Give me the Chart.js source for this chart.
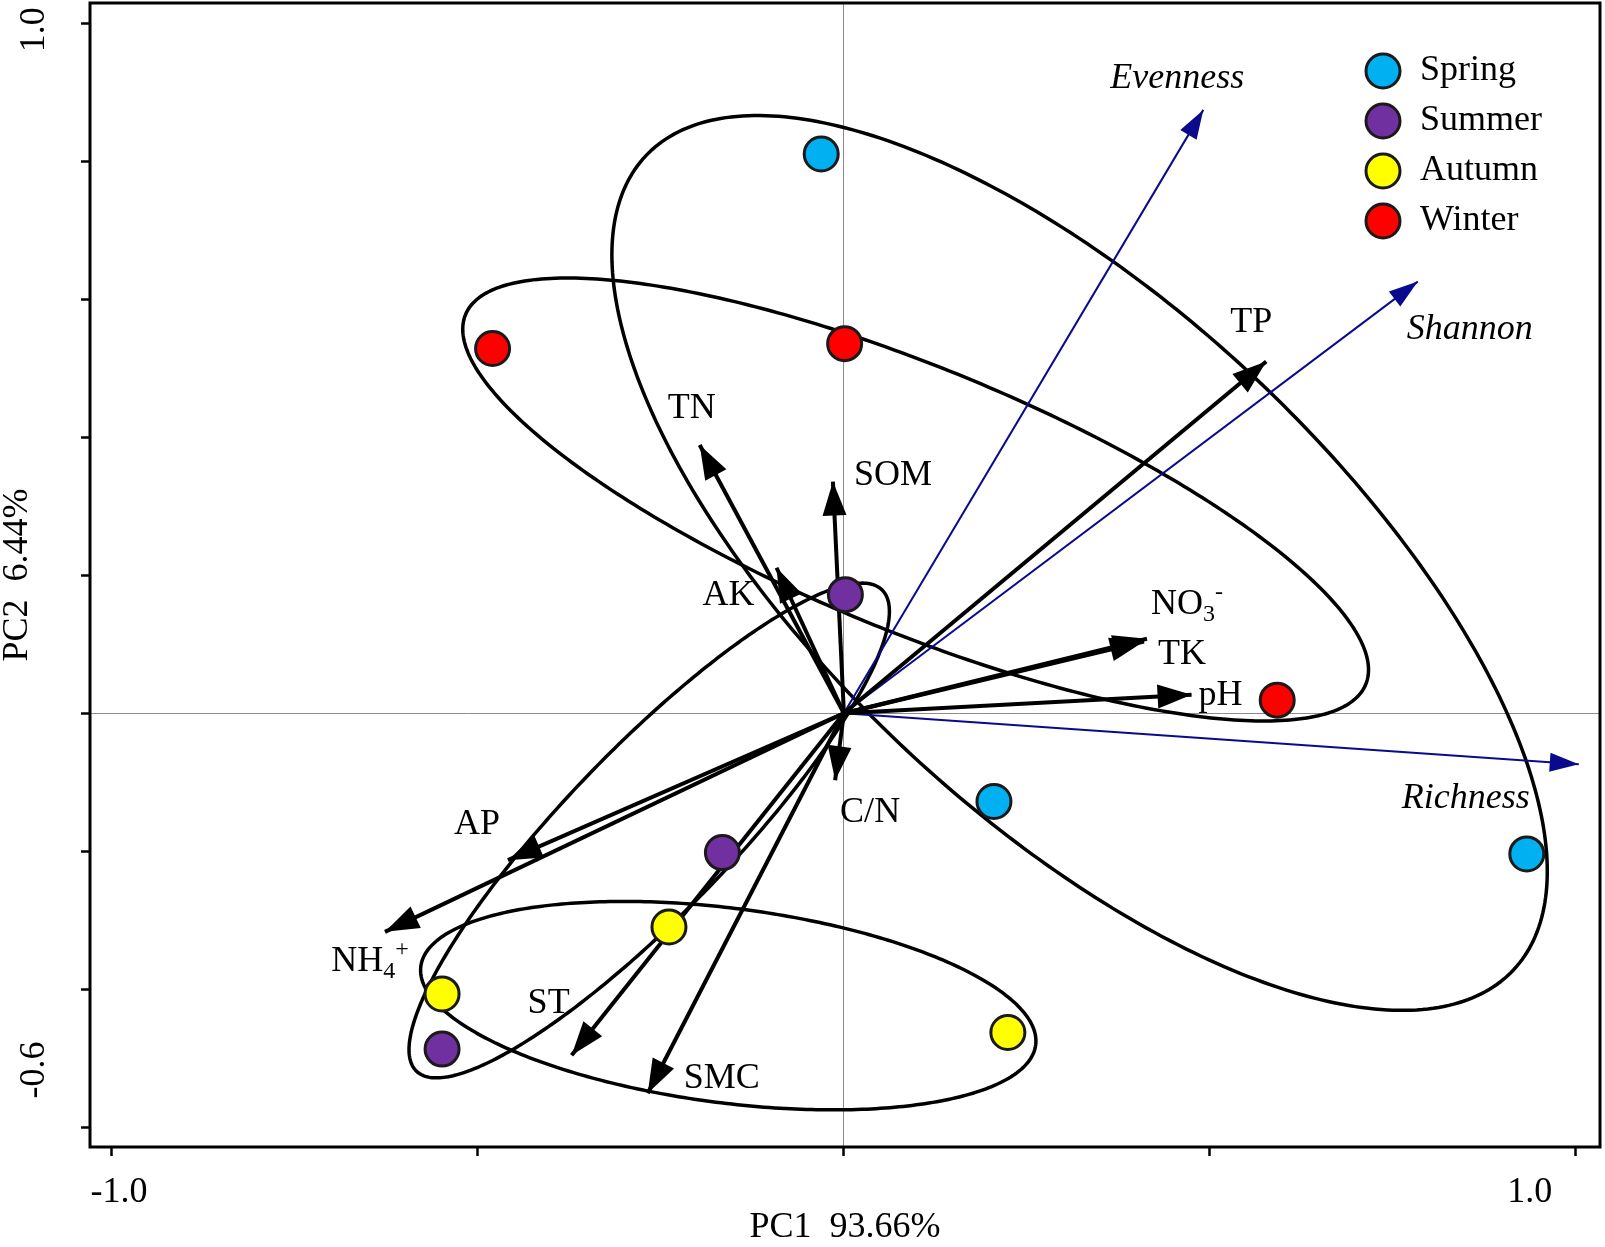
<!DOCTYPE html>
<html lang="en">
<head>
<meta charset="UTF-8" />
<title>PCA biplot - seasons</title>
<script src="https://cdn.jsdelivr.net/npm/chart.js"></script>
<style>
  html, body { margin: 0; padding: 0; background: #fff; }
  canvas { display: block; }
</style>
</head>
<body>
<canvas id="pca" width="1605" height="1247"></canvas>
<script>
// sample scores on PC1 / PC2, by season
const springPC1 = [-0.031, 0.205, 0.933];
const springPC2 = [0.811, -0.128, -0.204];
const summerPC1 = [0.002, -0.166, -0.549];
const summerPC2 = [0.172, -0.202, -0.487];
const autumnPC1 = [-0.239, -0.549, 0.224];
const autumnPC2 = [-0.310, -0.407, -0.463];
const winterPC1 = [-0.480, 0.001, 0.592];
const winterPC2 = [0.529, 0.536, 0.019];

// soil property loadings (black arrows)
const soilVars = ['TP', 'TN', 'SOM', 'AK', 'NO3-', 'TK', 'pH', 'C/N', 'AP', 'NH4+', 'ST', 'SMC'];
const soilPC1 = [0.577, -0.197, -0.015, -0.092, 0.414, 0.410, 0.475, -0.012, -0.459, -0.627, -0.372, -0.268];
const soilPC2 = [0.510, 0.389, 0.336, 0.211, 0.108, 0.104, 0.027, -0.097, -0.213, -0.317, -0.496, -0.551];

// diversity index loadings (blue arrows)
const divVars = ['Evenness', 'Shannon', 'Richness'];
const divPC1 = [0.491, 0.784, 1.004];
const divPC2 = [0.875, 0.626, -0.074];

// season ellipses (Spring, Summer, Autumn, Winter): centre + two semi-axis vectors
const ellCX = [0.322, -0.266, -0.158, 0.098];
const ellCY = [0.218, -0.170, -0.424, 0.310];
const ellAX = [0.593, 0.318, 0.420, 0.615];
const ellAY = [-0.590, 0.349, -0.057, -0.268];
const ellBX = [-0.238, 0.081, -0.017, -0.068];
const ellBY = [-0.270, -0.083, -0.140, -0.177];

const xTicks = [-1, -0.5, 0, 0.5, 1];
const yTicks = [-0.6, -0.4, -0.2, 0, 0.2, 0.4, 0.6, 0.8, 1.0];
const xEndTicks = [-1, 1];
const xEndLabels = ['-1.0', '1.0'];
const yEndTicks = [-0.6, 1.0];
const yEndLabels = ['-0.6', '1.0'];

const seasons = ['Spring', 'Summer', 'Autumn', 'Winter'];
const seasonColors = ['#00b0f0', '#7030a0', '#ffff00', '#ff0000'];

// ---- styling / layout ----
const SERIF = "'Liberation Serif', 'Times New Roman', serif";
const NAVY = '#0a0a8c';

// label position relative to arrow tip, in px
const labelOffset = {
  'TP': [-15, -39], 'TN': [-8, -36], 'SOM': [60, -6], 'AK': [-48, 28],
  'NO3-': [40, -34], 'TK': [38, 13], 'pH': [29, 1], 'C/N': [35, 32],
  'AP': [-31, -36], 'NH4+': [-15, 30], 'ST': [-23, -52], 'SMC': [74, -15],
  'Evenness': [-26, -31], 'Shannon': [52, 48], 'Richness': [-113, 34]
};
// labels with sub / superscripts: [text, 0 normal | 1 sub | 2 sup]
const richText = {
  'NO3-': [['NO', 0], ['3', 1], ['-', 2]],
  'NH4+': [['NH', 0], ['4', 1], ['+', 2]]
};

function pts(xs, ys) {
  return xs.map((x, i) => ({ x: x, y: ys[i] }));
}

const datasets = [];
const groups = [
  [springPC1, springPC2], [summerPC1, summerPC2],
  [autumnPC1, autumnPC2], [winterPC1, winterPC2]
];
groups.forEach((g, i) => {
  datasets.push({
    label: seasons[i],
    data: pts(g[0], g[1]),
    backgroundColor: seasonColors[i],
    borderColor: '#1a1a1a',
    borderWidth: 3,
    pointRadius: 17,
    pointHoverRadius: 17,
    order: 0
  });
});
soilVars.forEach((name, i) => {
  datasets.push({
    label: name,
    data: [{ x: 0, y: 0 }, { x: soilPC1[i], y: soilPC2[i] }],
    showLine: true,
    borderColor: '#000',
    borderWidth: 4,
    borderCapStyle: 'butt',
    pointRadius: 0,
    order: 1,
    arrow: { len: 34, half: 12, color: '#000', italic: false }
  });
});
divVars.forEach((name, i) => {
  datasets.push({
    label: name,
    data: [{ x: 0, y: 0 }, { x: divPC1[i], y: divPC2[i] }],
    showLine: true,
    borderColor: NAVY,
    borderWidth: 2,
    borderCapStyle: 'butt',
    pointRadius: 0,
    order: 2,
    arrow: { len: 29, half: 9.5, color: NAVY, italic: true }
  });
});

function drawRich(ctx, name, cx, cy, italic) {
  const parts = richText[name] || [[name, 0]];
  const fonts = parts.map(p => (italic ? 'italic ' : '') + (p[1] ? '24px ' : '36px ') + SERIF);
  let w = 0;
  const widths = parts.map((p, i) => { ctx.font = fonts[i]; const m = ctx.measureText(p[0]).width; w += m; return m; });
  let x = cx - w / 2;
  ctx.textAlign = 'left';
  ctx.textBaseline = 'middle';
  parts.forEach((p, i) => {
    ctx.font = fonts[i];
    const dy = p[1] === 1 ? 10 : (p[1] === 2 ? -12 : 0);
    ctx.fillText(p[0], x, cy + dy);
    x += widths[i];
  });
}

const biplot = {
  id: 'biplot',
  beforeDatasetsDraw(chart) {
    const { ctx, chartArea: a, scales: { x, y } } = chart;
    ctx.save();
    ctx.beginPath();
    ctx.rect(a.left, a.top, a.right - a.left, a.bottom - a.top);
    ctx.clip();
    ctx.strokeStyle = '#000';
    ctx.lineWidth = 3.5;
    for (let k = 0; k < ellCX.length; k++) {
      ctx.beginPath();
      for (let s = 0; s <= 360; s++) {
        const t = s * Math.PI / 180;
        const vx = ellCX[k] + ellAX[k] * Math.cos(t) + ellBX[k] * Math.sin(t);
        const vy = ellCY[k] + ellAY[k] * Math.cos(t) + ellBY[k] * Math.sin(t);
        const px = x.getPixelForValue(vx), py = y.getPixelForValue(vy);
        if (s === 0) ctx.moveTo(px, py); else ctx.lineTo(px, py);
      }
      ctx.closePath();
      ctx.stroke();
    }
    ctx.restore();
  },
  afterDatasetDraw(chart, args) {
    const ds = chart.data.datasets[args.index];
    if (!ds.arrow) return;
    const { ctx, scales: { x, y } } = chart;
    const x0 = x.getPixelForValue(ds.data[0].x), y0 = y.getPixelForValue(ds.data[0].y);
    const x1 = x.getPixelForValue(ds.data[1].x), y1 = y.getPixelForValue(ds.data[1].y);
    const ang = Math.atan2(y1 - y0, x1 - x0);
    const c = Math.cos(ang), s = Math.sin(ang);
    const { len, half, color } = ds.arrow;
    ctx.save();
    ctx.fillStyle = color;
    ctx.beginPath();
    ctx.moveTo(x1, y1);
    ctx.lineTo(x1 - len * c + half * s, y1 - len * s - half * c);
    ctx.lineTo(x1 - len * c - half * s, y1 - len * s + half * c);
    ctx.closePath();
    ctx.fill();
    ctx.restore();
  },
  afterDatasetsDraw(chart) {
    const { ctx, scales: { x, y } } = chart;
    ctx.save();
    chart.data.datasets.forEach(ds => {
      if (!ds.arrow) return;
      const off = labelOffset[ds.label] || [0, 0];
      const px = x.getPixelForValue(ds.data[1].x) + off[0];
      const py = y.getPixelForValue(ds.data[1].y) + off[1];
      ctx.fillStyle = '#000';
      drawRich(ctx, ds.label, px, py, ds.arrow.italic);
    });
    ctx.restore();
  },
  afterDraw(chart) {
    const { ctx, chartArea: a, scales: { x, y } } = chart;
    ctx.save();
    // frame
    ctx.strokeStyle = '#000';
    ctx.lineWidth = 3;
    ctx.strokeRect(a.left, a.top, a.right - a.left, a.bottom - a.top);
    // end tick labels
    ctx.fillStyle = '#000';
    ctx.font = '36px ' + SERIF;
    ctx.textAlign = 'center';
    ctx.textBaseline = 'middle';
    xEndTicks.forEach((v, i) => {
      const shift = v < 0 ? 7 : -46;
      ctx.fillText(xEndLabels[i], x.getPixelForValue(v) + shift, a.bottom + 46);
    });
    yEndTicks.forEach((v, i) => {
      const shift = v < 0 ? -57 : 6;
      ctx.save();
      ctx.translate(a.left - 55, y.getPixelForValue(v) + shift);
      ctx.rotate(-Math.PI / 2);
      ctx.fillText(yEndLabels[i], 0, 0);
      ctx.restore();
    });
    // legend
    seasons.forEach((name, i) => {
      const cy = 71 + i * 50;
      ctx.beginPath();
      ctx.arc(1383, cy, 17, 0, Math.PI * 2);
      ctx.fillStyle = seasonColors[i];
      ctx.fill();
      ctx.lineWidth = 3;
      ctx.strokeStyle = '#1a1a1a';
      ctx.stroke();
      ctx.fillStyle = '#000';
      ctx.textAlign = 'left';
      ctx.fillText(name, 1420, cy);
    });
    ctx.restore();
  }
};

function gridOpts() {
  return {
    drawOnChartArea: true,
    drawTicks: true,
    tickLength: 9,
    tickWidth: 2.5,
    tickColor: '#000',
    lineWidth: 1,
    color: c => (c.tick && c.tick.value === 0 ? '#8c8c8c' : 'rgba(0,0,0,0)')
  };
}

new Chart(document.getElementById('pca'), {
  type: 'scatter',
  data: { datasets: datasets },
  options: {
    responsive: false,
    animation: false,
    devicePixelRatio: 1,
    layout: { autoPadding: false, padding: { top: 3, right: 5, left: 0, bottom: 0 } },
    plugins: { legend: { display: false }, tooltip: { enabled: false } },
    scales: {
      x: {
        type: 'linear',
        min: -1.030,
        max: 1.033,
        afterBuildTicks: s => { s.ticks = xTicks.map(v => ({ value: v })); },
        afterFit: s => { s.height = 100; },
        grid: gridOpts(),
        border: { display: false },
        ticks: { display: false },
        title: {
          display: true, text: 'PC1  93.66%', color: '#000',
          font: { family: SERIF, size: 36, lineHeight: 1 },
          padding: { top: 0, bottom: 1 }
        }
      },
      y: {
        type: 'linear',
        min: -0.629,
        max: 1.030,
        afterBuildTicks: s => { s.ticks = yTicks.map(v => ({ value: v })); },
        afterFit: s => { s.width = 90; },
        grid: gridOpts(),
        border: { display: false },
        ticks: { display: false },
        title: {
          display: true, text: 'PC2  6.44%', color: '#000',
          font: { family: SERIF, size: 36, lineHeight: 1 },
          padding: { top: 0, bottom: 0 }
        }
      }
    }
  },
  plugins: [biplot]
});
</script>
</body>
</html>
